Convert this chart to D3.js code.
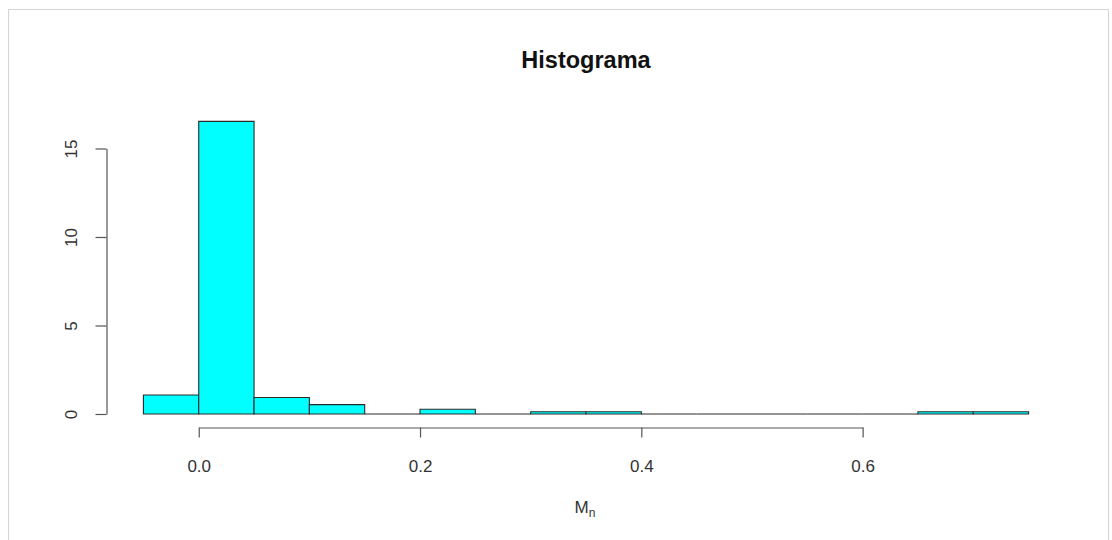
<!DOCTYPE html>
<html><head><meta charset="utf-8">
<script src="https://cdn.jsdelivr.net/npm/d3@7"></script>
<style>
html,body{margin:0;padding:0;background:#fff;}
svg{display:block;}
text{font-family:"Liberation Sans",Arial,sans-serif;}
</style></head>
<body>
<script>
// Histogram (density) — bins of width 0.05
const binStarts = [-0.05,0.00,0.05,0.10,0.15,0.20,0.25,0.30,0.35,0.40,0.45,0.50,0.55,0.60,0.65,0.70];
const binWidth = 0.05;
const densities = [1.07,16.53,0.93,0.53,0,0.27,0,0.13,0.13,0,0,0,0,0,0.13,0.13];
const xTicks = [0.0,0.2,0.4,0.6];
const yTicks = [0,5,10,15];
const title = "Histograma";

const W = 1112, H = 540;
const svg = d3.select("body").append("svg").attr("width", W).attr("height", H);

// frame
svg.append("rect").attr("x", 8.5).attr("y", 9.5).attr("width", 1100).attr("height", 540)
  .attr("fill", "none").attr("stroke", "#d4d4d4").attr("stroke-width", 1);

const xMin = binStarts[0], xMax = binStarts[binStarts.length-1] + binWidth;
const xPad = (xMax - xMin) * 0.04;
const yMax = d3.max(densities);
const yPad = yMax * 0.04;

const x = d3.scaleLinear().domain([xMin - xPad, xMax + xPad]).range([108, 1064]);
const y = d3.scaleLinear().domain([-yPad, yMax + yPad]).range([425.7, 109.7]);

// bars (paths so that zero-height bins still show as a line)
svg.append("g").selectAll("path").data(binStarts).join("path")
  .attr("d", (d, i) => {
    const x0 = x(d), x1 = x(d + binWidth), y0 = y(0), y1 = y(densities[i]);
    return `M${x0},${y0}L${x0},${y1}L${x1},${y1}L${x1},${y0}Z`;
  })
  .attr("fill", "#00ffff")
  .attr("stroke", "#2a2a2a")
  .attr("stroke-width", 1.1);

// x axis
const xa = x.copy().domain([xTicks[0], xTicks[xTicks.length-1]]).range([x(xTicks[0]), x(xTicks[xTicks.length-1])]);
const gx = svg.append("g").attr("transform", "translate(0,427.5)")
  .call(d3.axisBottom(xa).tickValues(xTicks).tickSize(10).tickSizeOuter(0).tickFormat(d3.format(".1f")));
gx.selectAll("path,line").attr("stroke", "#555").attr("stroke-width", 1.2);
gx.selectAll("text").attr("font-size", 17).attr("fill", "#333")
  .attr("font-family", "Liberation Sans, Arial, sans-serif")
  .attr("y", 44.5).attr("dy", null);

// y axis
const ya = y.copy().domain([yTicks[0], yTicks[yTicks.length-1]]).range([y(yTicks[0]), y(yTicks[yTicks.length-1])]);
const gy = svg.append("g").attr("transform", "translate(106.5,0)")
  .call(d3.axisLeft(ya).tickValues(yTicks).tickSize(11).tickSizeOuter(0).tickFormat(d3.format("d")));
gy.selectAll("path,line").attr("stroke", "#555").attr("stroke-width", 1.2);
gy.selectAll("text")
  .attr("font-size", 17).attr("fill", "#333").attr("font-family", "Liberation Sans, Arial, sans-serif")
  .attr("text-anchor", "middle")
  .attr("x", 0).attr("dy", null)
  .attr("transform", "translate(-35,0) rotate(-90)")
  .attr("dominant-baseline", "central");

// title
svg.append("text").attr("x", (x.range()[0] + x.range()[1]) / 2).attr("y", 68)
  .attr("text-anchor", "middle").attr("font-size", 23.5).attr("font-weight", "bold").attr("fill", "#111")
  .text(title);

// x label M_n
const lab = svg.append("text").attr("x", 585).attr("y", 513).attr("text-anchor", "middle")
  .attr("font-size", 17).attr("fill", "#333");
lab.append("tspan").text("M");
lab.append("tspan").attr("font-size", 12).attr("dy", 4).text("n");
</script>
</body></html>
